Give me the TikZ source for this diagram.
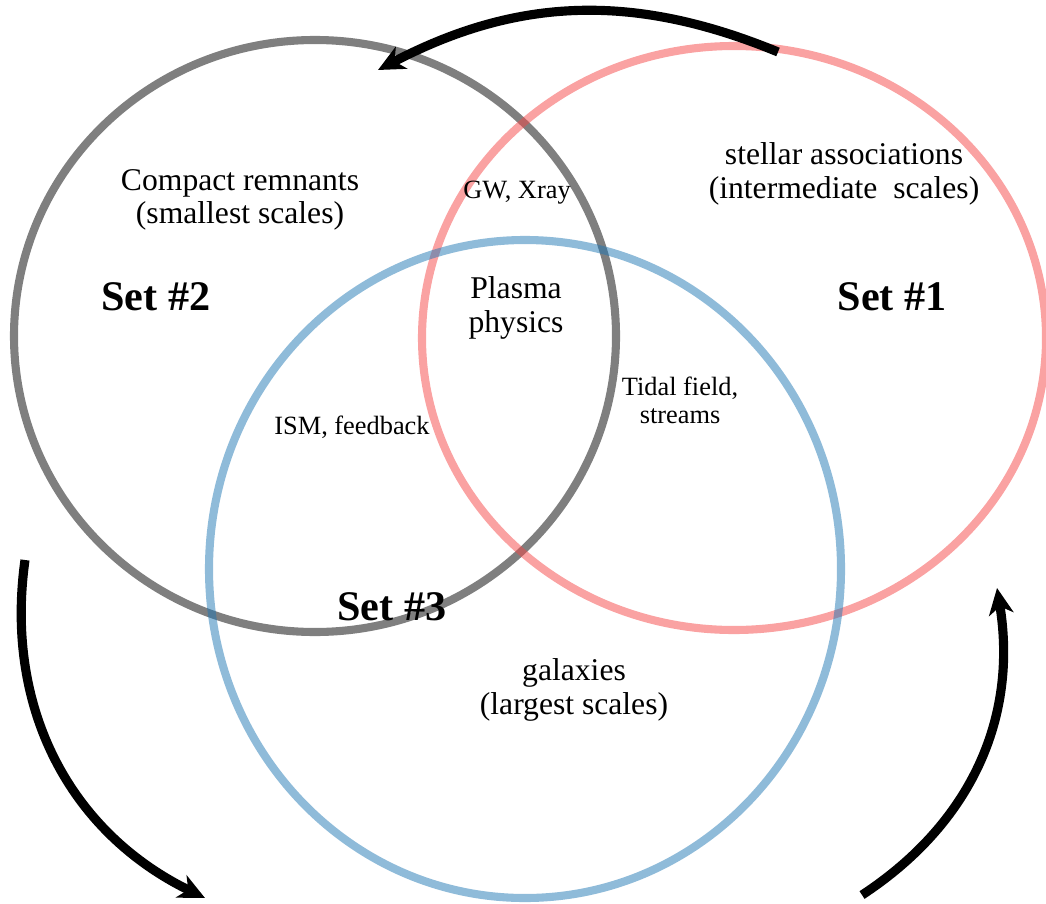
\documentclass[tikz,border=0pt]{standalone}
\usepackage{fontspec}
\setmainfont{Liberation Serif}
\usepackage{tikz}
\usetikzlibrary{arrows}
\usetikzlibrary{arrows.meta}
\usetikzlibrary{positioning}

\definecolor{setred}{RGB}{245,69,69}
\definecolor{setblue}{RGB}{31,119,180}

\begin{document}
\begin{tikzpicture}[>={Stealth[length=7.5pt,width=7pt,inset=2.2pt]},set line/.style={line width=2.3pt,draw opacity=0.5},flow/.style={->,line width=2.6pt},main label/.style={align=center,font=\fontsize{9}{9.5}\selectfont},small label/.style={align=center,font=\fontsize{7.5}{8}\selectfont},set label/.style={font=\fontsize{12}{14}\selectfont\bfseries}]
      \useasboundingbox (0,0) rectangle (10.46,9.03);

      % the three sets
      \draw[set line, black] (3.15,5.67) ellipse [x radius=3.01, y radius=2.96];
      \draw[set line, setred] (7.34,5.65) ellipse [x radius=3.12, y radius=2.92];
      \draw[set line, setblue] (5.25,3.34) ellipse [x radius=3.16, y radius=3.29];

      % labels
      \node [main label] (comp) at (2.40,7.03) {Compact remnants\\(smallest scales)};
      \node [set label] (set2) at (1.56,6.06) {Set \#2};
      \node [small label] (gwx) at (5.17,7.10) {GW, Xray};
      \node [main label] (stel) at (8.44,7.29) {stellar associations\\(intermediate\ \ scales)};
      \node [set label] (set1) at (8.92,6.06) {Set \#1};
      \node [main label] (plasma) at (5.16,5.95) {Plasma\\physics};
      \node [small label] (tidal) at (6.80,5.03) {Tidal field,\\streams};
      \node [small label] (ism) at (3.52,4.76) {ISM, feedback};
      \node [set label] (set3) at (3.92,2.96) {Set \#3};
      \node [main label] (gal) at (5.74,2.13) {galaxies\\(largest scales)};

      % cycle arrows
      \coordinate (topA) at (7.78,8.51);
      \coordinate (topB) at (3.78,8.33);
      \coordinate (leftA) at (0.25,3.43);
      \coordinate (leftB) at (2.05,0.05);
      \coordinate (rightA) at (8.62,0.08);
      \coordinate (rightB) at (9.97,3.15);

      \draw[flow] (topA) to[bend right=25] (topB);
      \draw[flow] (leftA) to[bend right=36] (leftB);
      \draw[flow] (rightA) to[bend right=33] (rightB);
    \end{tikzpicture}
\end{document}
